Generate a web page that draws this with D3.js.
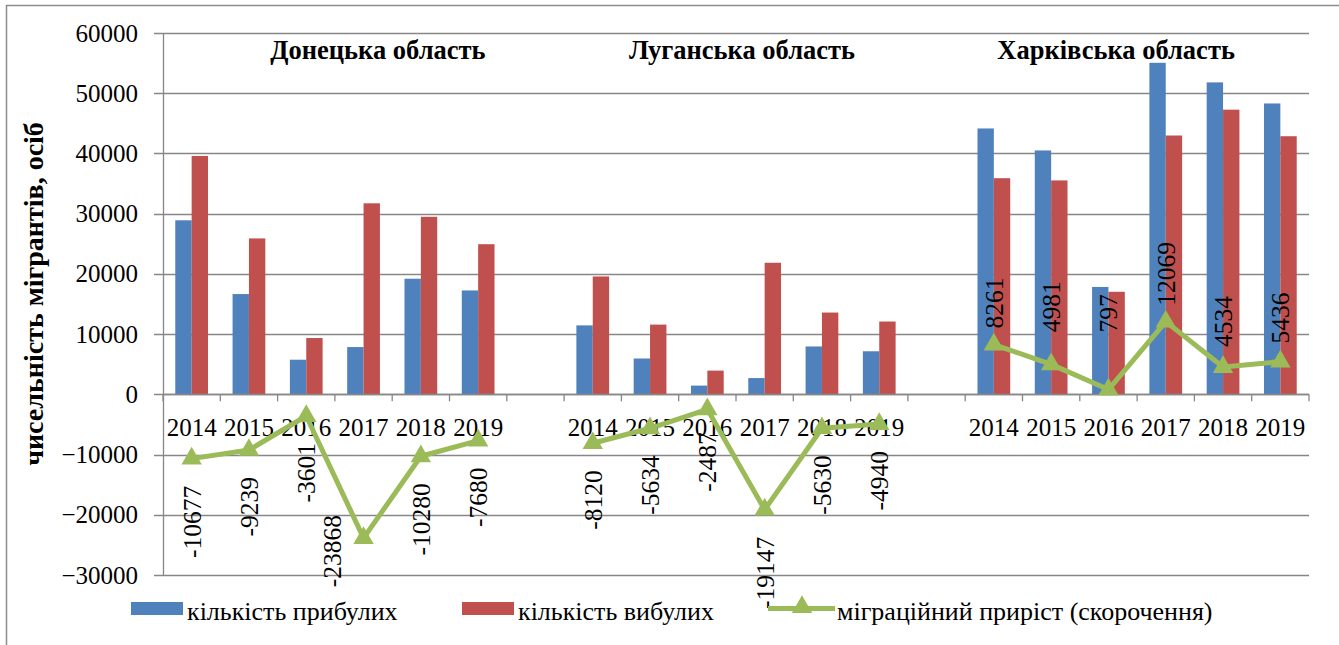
<!DOCTYPE html>
<html>
<head>
<meta charset="utf-8">
<script src="https://cdn.jsdelivr.net/npm/d3@7"></script>
<style>
  body { margin: 0; background: #fff; }
  svg text { font-family: "Liberation Serif", "Times New Roman", serif; fill: #000; }
</style>
</head>
<body>
<div id="chart"></div>
<script>
// data
const regions = ["Донецька область", "Луганська область", "Харківська область"];
const years = ["2014", "2015", "2016", "2017", "2018", "2019"];
const arrivals = [
  [28900, 16650, 5750, 7850, 19200, 17250],
  [11450, 5950, 1450, 2700, 7950, 7150],
  [44150, 40500, 17830, 55050, 51800, 48300]
];
const departures = [
  [39580, 25890, 9350, 31720, 29480, 24930],
  [19570, 11580, 3940, 21850, 13580, 12090],
  [35890, 35520, 17030, 42980, 47270, 42860]
];
const netMigration = [
  [-10677, -9239, -3601, -23868, -10280, -7680],
  [-8120, -5634, -2487, -19147, -5630, -4940],
  [8261, 4981, 797, 12069, 4534, 5436]
];
const yTicks = [-30000, -20000, -10000, 0, 10000, 20000, 30000, 40000, 50000, 60000];
const seriesNames = ["кількість прибулих", "кількість вибулих", "міграційний приріст (скорочення)"];
const yTitle = "чисельність мігрантів, осіб";

const colors = { arr: "#4F81BD", dep: "#C0504D", net: "#9BBB59" };
const serif = "'Liberation Serif','Times New Roman',serif";
const W = 1339, H = 645;
const plotL = 163, plotR = 1309, plotT = 33, plotB = 575;

// categories: 6 years, a blank slot, 6 years, a blank slot, 6 years
let cats = [];
regions.forEach((r, ri) => {
  years.forEach((yr, yi) => cats.push({ key: ri + "-" + yi, ri, yi, year: yr }));
  if (ri < regions.length - 1) cats.push({ key: "gap" + ri, ri: null, yi: null, year: "" });
});

let svg = d3.select("#chart").append("svg").attr("width", W).attr("height", H)
  .style("font-family", serif);

// outer frame (only left and top visible)
svg.append("path").attr("d", `M6.5,${H} V5.5 H${W}`).attr("fill", "none").attr("stroke", "#8c8c8c").attr("stroke-width", 1.5);

let x = d3.scaleBand().domain(cats.map(c => c.key)).range([plotL, plotR]).padding(0);
let x1 = d3.scaleBand().domain(["arr", "dep"]).range([0, x.bandwidth()]).paddingInner(0).paddingOuter(0.75);
let y = d3.scaleLinear().domain([-30000, 60000]).range([plotB, plotT]);

// gridlines
svg.append("g").selectAll("line").data(yTicks).enter().append("line")
  .attr("x1", plotL - 9).attr("x2", plotR)
  .attr("y1", d => Math.round(y(d)) + 0.5).attr("y2", d => Math.round(y(d)) + 0.5)
  .attr("stroke", "#878787").attr("stroke-width", 1.3);

// y axis
let yAxis = svg.append("g").attr("transform", `translate(${plotL},0)`)
  .call(d3.axisLeft(y).tickValues(yTicks).tickSize(0).tickPadding(25).tickFormat(d3.format("d")))
  .attr("font-family", serif).attr("font-size", 25);
yAxis.select(".domain").attr("stroke", "#878787").attr("stroke-width", 1.3);
yAxis.selectAll("text").attr("fill", "#000");

// category ticks on zero line
let bounds = cats.map(c => x(c.key)).concat([plotR]);
svg.append("g").selectAll("line").data(bounds).enter().append("line")
  .attr("x1", d => d).attr("x2", d => d)
  .attr("y1", y(0)).attr("y2", y(0) + 7)
  .attr("stroke", "#878787").attr("stroke-width", 1.3);

// bars
let barData = [];
cats.forEach(c => {
  if (c.ri === null) return;
  barData.push({ key: c.key, s: "arr", v: arrivals[c.ri][c.yi] });
  barData.push({ key: c.key, s: "dep", v: departures[c.ri][c.yi] });
});
svg.append("g").selectAll("rect").data(barData).enter().append("rect")
  .attr("x", d => x(d.key) + x1(d.s))
  .attr("width", x1.bandwidth())
  .attr("y", d => y(d.v))
  .attr("height", d => y(0) - y(d.v))
  .attr("fill", d => colors[d.s]);

// zero line on top of bars
svg.append("line").attr("x1", plotL).attr("x2", plotR)
  .attr("y1", Math.round(y(0)) + 0.5).attr("y2", Math.round(y(0)) + 0.5)
  .attr("stroke", "#878787").attr("stroke-width", 1.3);

// category labels
svg.append("g").selectAll("text").data(cats.filter(c => c.year)).enter().append("text")
  .attr("x", d => x(d.key) + x.bandwidth() / 2)
  .attr("y", 436)
  .attr("text-anchor", "middle")
  .style("font-size", "25px")
  .text(d => d.year);

// region titles (text boxes placed by hand in the original)
const titleShift = [43, 6, -21];
svg.append("g").selectAll("text").data(regions).enter().append("text")
  .attr("x", (d, i) => {
    let a = x(i + "-0"), b = x(i + "-5") + x.bandwidth();
    return (a + b) / 2 + titleShift[i];
  })
  .attr("y", 59)
  .attr("text-anchor", "middle")
  .style("font-size", "26.5px").style("font-weight", "bold")
  .text(d => d);

// migration line, broken between regions
let linePts = cats.map(c => c.ri === null ? null : { key: c.key, ri: c.ri, yi: c.yi, v: netMigration[c.ri][c.yi] });
let line = d3.line()
  .defined(d => d !== null)
  .x(d => x(d.key) + x.bandwidth() / 2)
  .y(d => y(d.v));
svg.append("path").datum(linePts).attr("d", line)
  .attr("fill", "none").attr("stroke", colors.net).attr("stroke-width", 5).attr("stroke-linejoin", "round");

let tri = d3.symbol().type(d3.symbolTriangle).size(180);
let pts = linePts.filter(d => d);
svg.append("g").selectAll("path").data(pts).enter().append("path")
  .attr("d", tri)
  .attr("transform", d => `translate(${x(d.key) + x.bandwidth() / 2},${y(d.v)})`)
  .attr("fill", colors.net);

// data labels (rotated); a few were moved by hand in the original
const nudge = { "0-3": [-31, -50], "2-1": [0, -16], "2-2": [0, -41], "2-4": [0, -4], "2-5": [0, -2], "1-2": [0, -4] };
svg.append("g").selectAll("text").data(pts).enter().append("text")
  .attr("transform", d => {
    let n = nudge[d.key] || [0, 0];
    let px = x(d.key) + x.bandwidth() / 2 + n[0];
    let py = d.v < 0 ? y(d.v) + 27 + n[1] : y(d.v) - 16 + n[1];
    return `translate(${px},${py}) rotate(-90)`;
  })
  .attr("text-anchor", d => d.v < 0 ? "end" : "start")
  .attr("dy", "0.35em")
  .style("font-size", "25.5px")
  .text(d => d.v);

// y axis title
svg.append("text")
  .attr("transform", "translate(33,294) rotate(-90)")
  .attr("text-anchor", "middle")
  .attr("dy", "0.35em")
  .style("font-size", "28px").style("font-weight", "bold")
  .text(yTitle);

// legend
let lg = svg.append("g");
const legX = [131, 462, 768];
lg.append("rect").attr("x", legX[0]).attr("y", 602).attr("width", 52).attr("height", 13).attr("fill", colors.arr);
lg.append("rect").attr("x", legX[1]).attr("y", 602).attr("width", 52).attr("height", 13).attr("fill", colors.dep);
lg.append("line").attr("x1", legX[2]).attr("x2", legX[2] + 67).attr("y1", 608.5).attr("y2", 608.5)
  .attr("stroke", colors.net).attr("stroke-width", 5);
lg.append("path").attr("d", tri).attr("transform", `translate(${legX[2] + 34},607)`).attr("fill", colors.net);
const legTextX = [187, 518, 837];
lg.selectAll("text.leg").data(seriesNames).enter().append("text")
  .attr("class", "leg")
  .attr("x", (d, i) => legTextX[i])
  .attr("y", 620)
  .style("font-size", "26px")
  .text(d => d);
</script>
</body>
</html>
